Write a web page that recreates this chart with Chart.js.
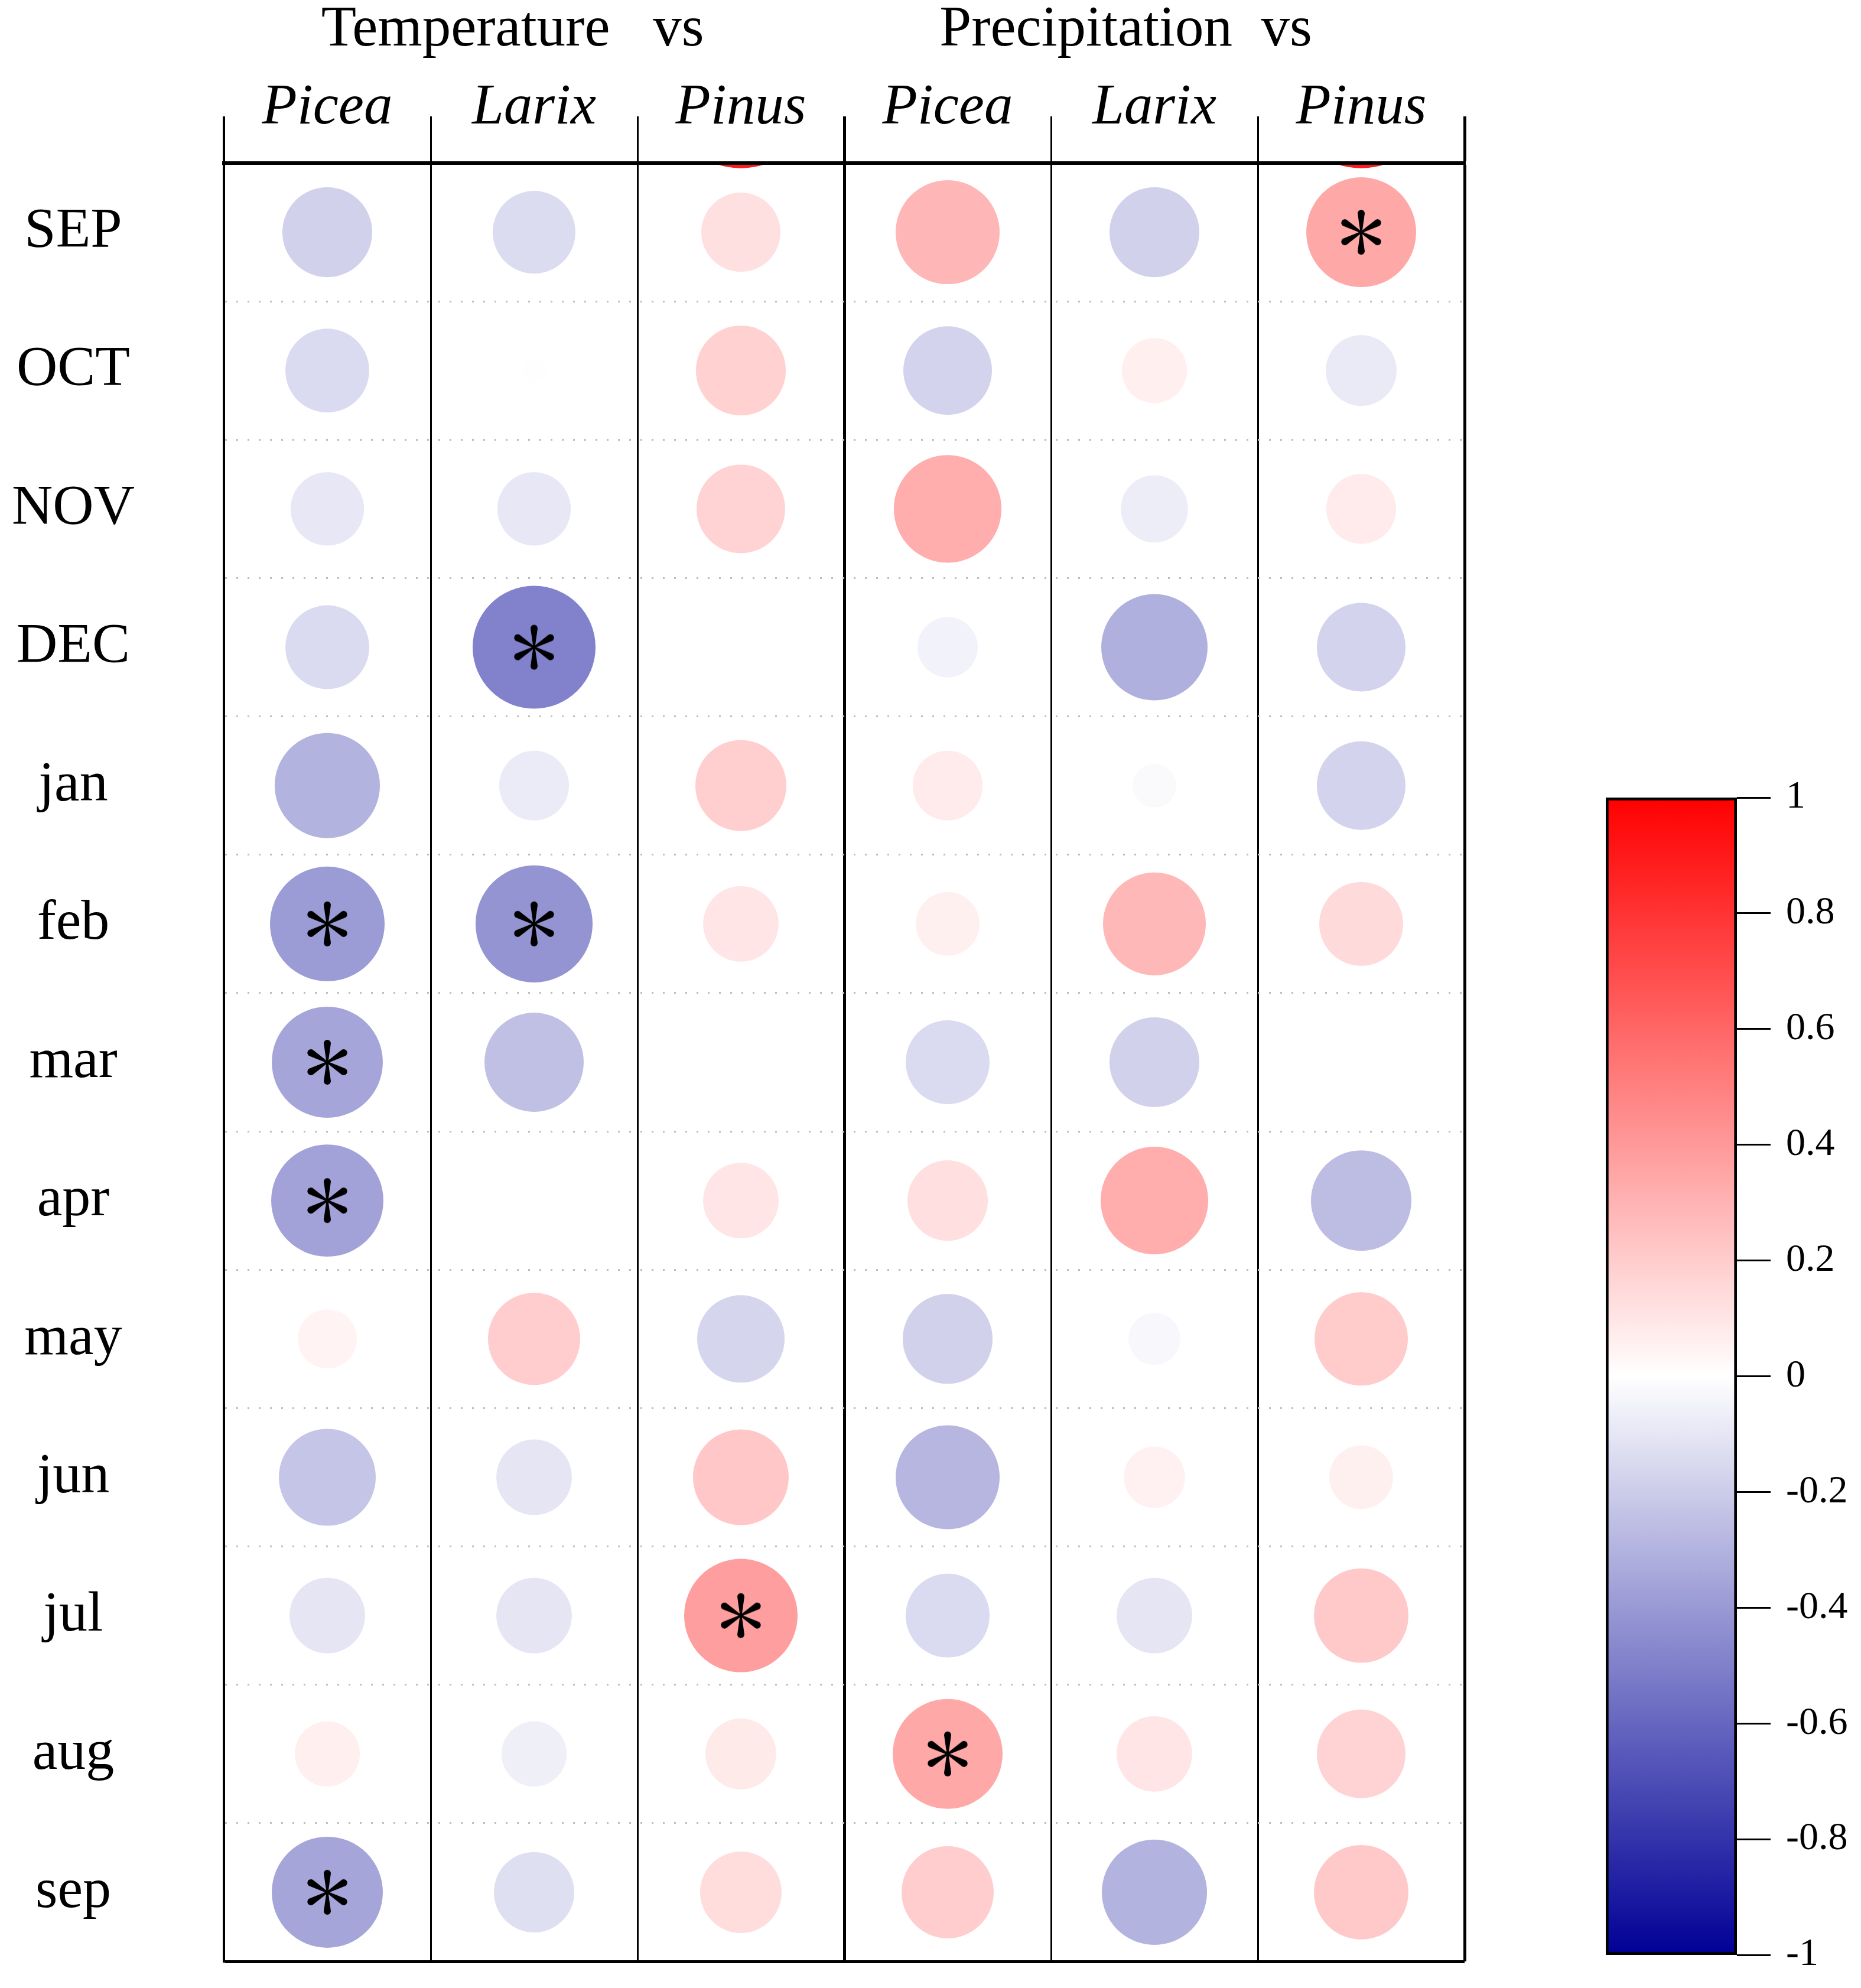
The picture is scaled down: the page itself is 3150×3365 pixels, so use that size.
<!DOCTYPE html>
<html>
<head>
<meta charset="utf-8">
<script src="https://cdn.jsdelivr.net/npm/chart.js@4.4.1/dist/chart.umd.min.js"></script>
<style>
html,body{margin:0;padding:0;background:#fff;width:3150px;height:3365px;overflow:hidden;}
#main{position:absolute;left:0;top:0;width:3150px;height:3365px;}
#bar{position:absolute;left:2600px;top:1250px;width:550px;height:2115px;}
</style>
</head>
<body>
<canvas id="main" width="3150" height="3365"></canvas>
<canvas id="bar" width="550" height="2115"></canvas>
<script>
// ---------- data ----------
const months = ['SEP','OCT','NOV','DEC','jan','feb','mar','apr','may','jun','jul','aug','sep'];
const species = ['Picea','Larix','Pinus','Picea','Larix','Pinus'];
const groups = ['Temperature   vs   ', 'Precipitation  vs    '];

const tempPicea = [-0.18, -0.144, -0.094, -0.144, -0.298, -0.392, -0.354, -0.366, 0.047, -0.229, -0.103, 0.064, -0.354];
const tempLarix = [-0.138, -0.003, -0.094, -0.49, -0.08, -0.419, -0.247, null, 0.195, -0.103, -0.103, -0.064, -0.126];
const tempPinus = [0.12, 0.18, 0.172, null, 0.187, 0.103, null, 0.103, -0.165, 0.22, 0.379, 0.084, 0.132];
const precPicea = [0.287, -0.172, 0.32, -0.05, 0.08, 0.06, -0.144, 0.126, -0.18, -0.287, -0.144, 0.342, 0.195];
const precLarix = [-0.18, 0.064, -0.071, -0.308, -0.018, 0.277, -0.18, 0.32, -0.031, 0.053, -0.103, 0.103, -0.298];
const precPinus = [0.342, -0.084, 0.08, -0.172, -0.172, 0.144, null, -0.257, 0.203, 0.06, 0.211, 0.172, 0.211];

// row just above SEP (cropped in the figure; only its lower edge shows)
const rowAbove = [null, null, 0.9, null, null, 0.9];

// significant cells (asterisks), per column
const sigTempPicea = ['feb','mar','apr','sep'];
const sigTempLarix = ['DEC','feb'];
const sigTempPinus = ['jul'];
const sigPrecPicea = ['aug'];
const sigPrecLarix = [];
const sigPrecPinus = ['SEP'];

const colorbarTicks = [-1, -0.8, -0.6, -0.4, -0.2, 0, 0.2, 0.4, 0.6, 0.8, 1];

// ---------- helpers ----------
const columns = [tempPicea, tempLarix, tempPinus, precPicea, precLarix, precPinus];
const sigColumns = [sigTempPicea, sigTempLarix, sigTempPinus, sigPrecPicea, sigPrecLarix, sigPrecPinus];
const NEG_END = [0, 0, 150], POS_END = [255, 0, 0];
function corrColor(v) {
  const t = Math.min(1, Math.abs(v));
  const e = v < 0 ? NEG_END : POS_END;
  const c = e.map(x => Math.round(255 + (x - 255) * t));
  return 'rgb(' + c.join(',') + ')';
}
function corrRadius(v) { return 130 * Math.pow(Math.abs(v), 1 / 3.2); }

const cellPoints = [];
columns.forEach((col, c) => col.forEach((v, m) => { if (v !== null) cellPoints.push({x: c, y: m, v: v}); }));
const abovePoints = [];
rowAbove.forEach((v, c) => { if (v !== null) abovePoints.push({x: c, y: -1, v: v}); });
const starPoints = [];
sigColumns.forEach((list, c) => list.forEach(lab => starPoints.push({x: c, y: months.indexOf(lab)})));

function makeAsterisk() {
  const L = 38, cv = document.createElement('canvas');
  cv.width = 84; cv.height = 84;
  const g = cv.getContext('2d');
  g.translate(42, 42);
  g.fillStyle = '#000';
  for (let k = 0; k < 6; k++) {
    g.save();
    g.rotate(k * Math.PI / 3);
    g.beginPath();
    g.moveTo(-1.5, 0);
    g.lineTo(-6, -(L - 6));
    g.arc(0, -(L - 6), 6, Math.PI, 0, false);
    g.lineTo(1.5, 0);
    g.closePath();
    g.fill();
    g.restore();
  }
  return cv;
}
const asterisk = makeAsterisk();
const FONT = 'Liberation Serif';

// ---------- main chart ----------
new Chart(document.getElementById('main'), {
  type: 'scatter',
  data: {
    datasets: [
      { label: 'sig', data: starPoints, xAxisID: 'xl', yAxisID: 'yl', order: 0, clip: 0,
        pointStyle: asterisk, pointRadius: 10, pointHoverRadius: 10 },
      { label: 'r', data: cellPoints, xAxisID: 'xl', yAxisID: 'yl', order: 1, clip: 0,
        pointRadius: c => corrRadius(c.raw.v), pointHoverRadius: c => corrRadius(c.raw.v),
        pointBackgroundColor: c => corrColor(c.raw.v), pointHoverBackgroundColor: c => corrColor(c.raw.v),
        pointBorderWidth: 0, pointHoverBorderWidth: 0 },
      { label: 'above', data: abovePoints, xAxisID: 'xl', yAxisID: 'yl', order: 2, clip: 0,
        pointRadius: c => corrRadius(c.raw.v), pointHoverRadius: c => corrRadius(c.raw.v),
        pointBackgroundColor: c => corrColor(c.raw.v), pointBorderWidth: 0, pointHoverBorderWidth: 0 }
    ]
  },
  options: {
    responsive: false, animation: false, devicePixelRatio: 1, events: [],
    layout: { autoPadding: false, padding: { left: 0, top: 0, right: 671, bottom: 45 } },
    plugins: { legend: { display: false }, tooltip: { enabled: false } },
    scales: {
      xl: { type: 'linear', min: -0.5, max: 5.5, display: false },
      yl: { type: 'linear', min: -0.5, max: 12.5, reverse: true, display: false },
      x2: {
        type: 'category', labels: groups, position: 'top', weight: 2, offset: true, min: 0, max: 1,
        grid: { display: false, drawTicks: false }, border: { display: false },
        ticks: { font: { family: FONT, size: 97 }, color: '#000', padding: 10, autoSkip: false, maxRotation: 0, minRotation: 0 },
        afterFit: s => { s.height = 120; s.paddingLeft = 0; s.paddingRight = 0; }
      },
      x: {
        type: 'category', labels: species, position: 'top', weight: 1, offset: true, min: 0, max: 5,
        grid: { offset: true, drawTicks: true, tickLength: 79, color: '#000',
          lineWidth: c => (c.index === undefined || c.index === 3) ? 5 : (c.index === 0 ? 4 : 3) },
        border: { display: true, color: '#000', width: 6, z: 1 },
        ticks: { font: { family: FONT, size: 97, style: 'italic' }, color: '#000', padding: -45, autoSkip: false, maxRotation: 0, minRotation: 0 },
        afterFit: s => { s.height = 156; s.paddingLeft = 0; s.paddingRight = 0; }
      },
      y: {
        type: 'category', labels: months, position: 'left', offset: true, min: 0, max: 12,
        grid: { offset: true, drawTicks: false,
          color: c => c.index === undefined ? '#000' : (c.index === 0 ? 'rgba(0,0,0,0)' : '#bdbdbd'),
          lineWidth: c => c.index === undefined ? 5 : 3 },
        border: { display: true, color: '#000', width: 4, dash: c => c.index === undefined ? [] : [3, 16] },
        ticks: { font: { family: FONT, size: 96 }, color: '#000', crossAlign: 'center', padding: 151, autoSkip: false },
        afterFit: s => { s.width = 379; s.paddingTop = 0; s.paddingBottom = 0; }
      }
    }
  }
});

// ---------- colour bar ----------
function barGradient(chart) {
  const a = chart.chartArea;
  if (!a) return 'rgba(0,0,0,0)';
  const g = chart.ctx.createLinearGradient(0, a.bottom, 0, a.top);
  for (let i = 0; i <= 40; i++) {
    const v = -1 + i * 0.05;
    g.addColorStop(i / 40, corrColor(v));
  }
  return g;
}
new Chart(document.getElementById('bar'), {
  type: 'bar',
  data: { labels: ['r'], datasets: [{ data: [[-1, 1]], backgroundColor: c => barGradient(c.chart),
    borderColor: '#000', borderWidth: 5, borderSkipped: false, barPercentage: 1, categoryPercentage: 1 }] },
  options: {
    responsive: false, animation: false, devicePixelRatio: 1, events: [],
    layout: { autoPadding: false, padding: { left: 118, top: 100, right: 0, bottom: 56 } },
    plugins: { legend: { display: false }, tooltip: { enabled: false } },
    scales: {
      x: { display: false },
      y: {
        position: 'right', min: -1, max: 1,
        afterBuildTicks: s => { s.ticks = colorbarTicks.map(v => ({ value: v })); },
        grid: { drawOnChartArea: false, drawTicks: true, tickLength: 57, color: '#000', lineWidth: 3 },
        border: { display: false },
        ticks: { font: { family: FONT, size: 66 }, color: '#000', padding: 26, callback: v => String(v) },
        afterFit: s => { s.width = 210; s.paddingTop = 0; s.paddingBottom = 0; }
      }
    }
  }
});
</script>
</body>
</html>
